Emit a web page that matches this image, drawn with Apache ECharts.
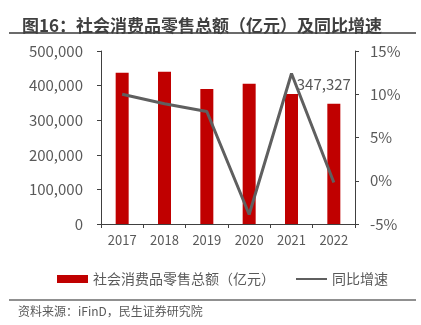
<!DOCTYPE html>
<html>
<head>
<meta charset="utf-8">
<script src="https://cdn.jsdelivr.net/npm/echarts@6/dist/echarts.min.js"></script>
<style>html,body{margin:0;padding:0;background:#fff;}#c{width:421px;height:325px;}</style>
</head>
<body>
<div id="c"></div>
<script>
var years = ['2017', '2018', '2019', '2020', '2021', '2022'];
var retailSales = [436800, 439700, 390000, 405000, 375500, 347327];
var growthRate = [10.0, 8.9, 8.0, -3.9, 12.4, -0.2];
var leftTicks = { min: 0, max: 500000, interval: 100000 };
var rightTicks = { min: -5, max: 15, interval: 5 };
var titleText = '图16：社会消费品零售总额（亿元）及同比增速';
var sourceText = '资料来源：iFinD，民生证券研究院';
var barName = '社会消费品零售总额（亿元）';
var lineName = '同比增速';

var FONT = '"Noto Sans CJK SC", "Noto Sans", sans-serif';
var TXT = '#595959';
var AX = '#404040';

var chart = echarts.init(document.getElementById('c'), null, { renderer: 'canvas' });

var barData = retailSales.map(function (v, i) {
  if (i === retailSales.length - 1) {
    return {
      value: v,
      label: {
        show: true, position: 'top', offset: [-10, -7],
        formatter: function (p) { return p.value.toLocaleString('en-US'); },
        color: TXT, fontSize: 15, fontFamily: FONT
      }
    };
  }
  return v;
});

chart.setOption({
  animation: false,
  textStyle: { fontFamily: FONT },
  title: {
    text: titleText, left: 17, top: 12,
    textStyle: { fontFamily: FONT, fontSize: 17, fontWeight: 'bold', color: '#404040' }
  },
  graphic: [
    { type: 'line', shape: { x1: 9, y1: 33, x2: 416, y2: 33 }, style: { stroke: '#6b6b6b', lineWidth: 2 } },
    { type: 'line', shape: { x1: 9, y1: 300, x2: 416, y2: 300 }, style: { stroke: '#6b6b6b', lineWidth: 1.5 } },
    { type: 'text', left: 18, top: 305, style: { text: sourceText, fill: TXT, font: '12px ' + FONT } }
  ],
  legend: {
    left: 52, top: 267, itemGap: 20, itemWidth: 31, itemHeight: 8,
    textStyle: { color: TXT, fontSize: 14, fontFamily: FONT },
    data: [
      { name: barName, icon: 'rect' },
      { name: lineName, itemStyle: { color: 'rgba(0,0,0,0)', borderWidth: 0, opacity: 0 } }
    ]
  },
  grid: { left: 101, right: 66, top: 51, bottom: 101 },
  xAxis: {
    type: 'category', data: years,
    axisLine: { lineStyle: { color: AX, width: 1 } },
    axisTick: { show: true, alignWithLabel: false, length: 4, lineStyle: { color: AX } },
    axisLabel: { color: TXT, fontSize: 13, margin: 10, fontFamily: FONT }
  },
  yAxis: [
    {
      type: 'value', min: leftTicks.min, max: leftTicks.max, interval: leftTicks.interval,
      axisLine: { show: true, lineStyle: { color: AX } },
      axisTick: { show: true, length: 4, lineStyle: { color: AX } },
      splitLine: { show: false },
      axisLabel: {
        color: TXT, fontSize: 15, margin: 18, fontFamily: FONT,
        formatter: function (v) { return v.toLocaleString('en-US'); }
      }
    },
    {
      type: 'value', min: rightTicks.min, max: rightTicks.max, interval: rightTicks.interval,
      axisLine: { show: true, lineStyle: { color: AX } },
      axisTick: { show: true, length: 4, lineStyle: { color: AX } },
      splitLine: { show: false },
      axisLabel: { color: TXT, fontSize: 15, margin: 15, fontFamily: FONT, formatter: '{value}%' }
    }
  ],
  series: [
    {
      name: barName, type: 'bar', data: barData, barWidth: 13,
      itemStyle: { color: '#C00000' }
    },
    {
      name: lineName, type: 'line', yAxisIndex: 1, data: growthRate,
      symbol: 'none', showSymbol: false,
      lineStyle: { color: '#5f5f5f', width: 3 }, itemStyle: { color: '#5f5f5f' }
    }
  ]
});
</script>
</body>
</html>
